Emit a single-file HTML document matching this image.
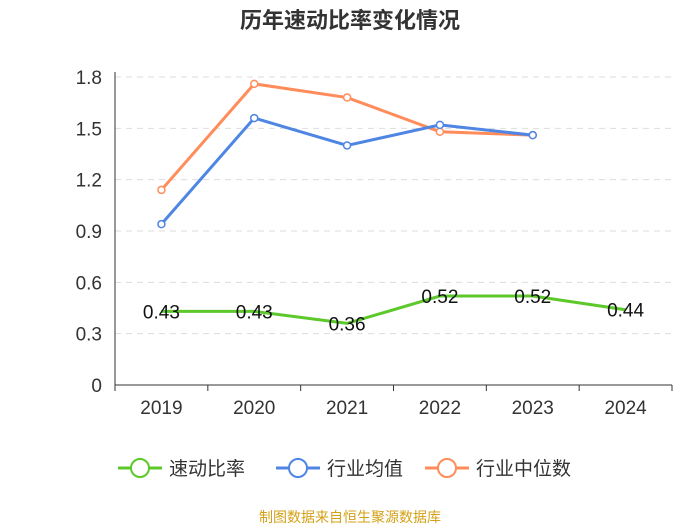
<!DOCTYPE html>
<html><head><meta charset="utf-8"><style>
body{margin:0;background:#fff;}
svg text{font-family:"Liberation Sans","Noto Sans CJK SC",sans-serif;}
</style></head><body>
<svg id="c" width="700" height="525" xmlns="http://www.w3.org/2000/svg">
<text x="350" y="28" text-anchor="middle" font-size="22" font-weight="bold" fill="#333">历年速动比率变化情况</text>
<g id="grid"></g><g id="axes"></g><g id="series"></g>
<g id="legend"></g>
<text x="350" y="522" text-anchor="middle" font-size="14" fill="#d4a017">制图数据来自恒生聚源数据库</text>
</svg>
<script>
const categories=["2019","2020","2021","2022","2023","2024"];
const quickRatio=[0.43,0.43,0.36,0.52,0.52,0.44];
const industryAvg=[0.94,1.56,1.40,1.52,1.46];
const industryMedian=[1.14,1.76,1.68,1.48,1.46];
const yTicks=[0,0.3,0.6,0.9,1.2,1.5,1.8];
const yTickLabels=["0","0.3","0.6","0.9","1.2","1.5","1.8"];
const NS="http://www.w3.org/2000/svg";
const x0=115,x1=672,yTop=77,yBot=385,yMax=1.8;
const bw=(x1-x0)/categories.length;
const X=i=>x0+bw*(i+0.5);
const Y=v=>yBot-v/yMax*(yBot-yTop);
function mk(t,a,p){const e=document.createElementNS(NS,t);for(const k in a)e.setAttribute(k,a[k]);p.appendChild(e);return e;}
const grid=document.getElementById('grid'),axes=document.getElementById('axes'),ser=document.getElementById('series'),leg=document.getElementById('legend');
yTicks.forEach((v,i)=>{
  if(v>0){const g=mk('line',{x1:x0,x2:x1,y1:Y(v),y2:Y(v),stroke:'#ddd','stroke-dasharray':'6,5'},grid);
  
  }
  const t=mk('text',{x:x0-13,y:Y(v)+7,'text-anchor':'end','font-size':19,fill:'#333'},axes);t.textContent=yTickLabels[i];
  
  
});
const ya=mk('line',{x1:x0,x2:x0,y1:yTop-5,y2:yBot,stroke:'#333'},axes);


const xa=mk('line',{x1:x0,x2:x1,y1:yBot,y2:yBot,stroke:'#333'},axes);


for(let i=0;i<=categories.length;i++){mk('line',{x1:x0+bw*i,x2:x0+bw*i,y1:yBot,y2:yBot+6,stroke:'#333'},axes);}
categories.forEach((c,i)=>{const t=mk('text',{x:X(i),y:yBot+29,'text-anchor':'middle','font-size':19,fill:'#333'},axes);t.textContent=c;
  
  });
function line(vals,color,name,markers,labels){
  const p=mk('polyline',{points:vals.map((v,i)=>X(i)+','+Y(v)).join(' '),fill:'none',stroke:color,'stroke-width':3},ser);
  
  
  vals.forEach((v,i)=>{
    if(markers){const c=mk('circle',{cx:X(i),cy:Y(v),r:3.5,fill:'#fff',stroke:color,'stroke-width':1.5},ser);
    
    }
    if(labels){const t=mk('text',{x:X(i),y:Y(v)+7,'text-anchor':'middle','font-size':19,fill:'#111'},ser);t.textContent=v.toFixed(2);
    
    }
  });
}
line(industryMedian,'#ff8c5a','industry-median',true,false);
line(industryAvg,'#4f86e3','industry-avg',true,false);
line(quickRatio,'#5cc82a','quick-ratio',false,true);
[['速动比率','#5cc82a',140],['行业均值','#4f86e3',298],['行业中位数','#ff8c5a',447]].forEach(([n,c,x])=>{
  const g=mk('g',{},leg);
  
  
  mk('line',{x1:x-22,x2:x+22,y1:468,y2:468,stroke:c,'stroke-width':3},g);
  mk('circle',{cx:x,cy:468,r:9,fill:'#fff',stroke:c,'stroke-width':2},g);
  const t=mk('text',{x:x+29,y:475,'font-size':19,fill:'#333'},g);t.textContent=n;
});
</script>
</body></html>
